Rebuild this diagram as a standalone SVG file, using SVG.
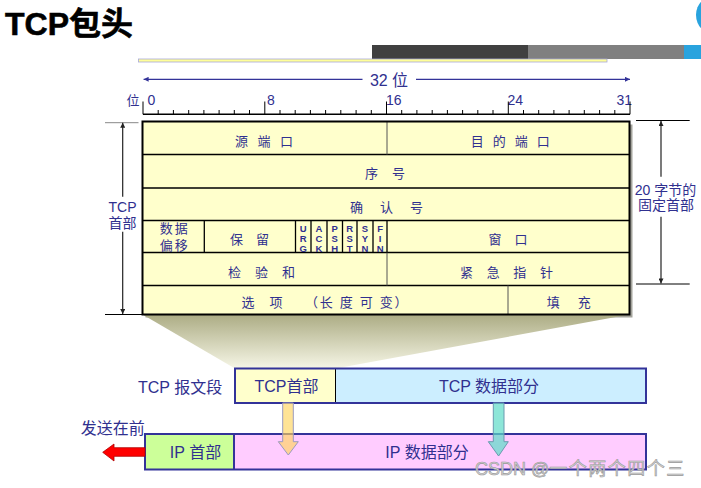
<svg xmlns="http://www.w3.org/2000/svg" width="701" height="488" viewBox="0 0 701 488">
<defs>
<style>
.t{font-family:"Liberation Sans","Noto Sans CJK SC",sans-serif;fill:#30308f}
.c13{font-size:13px;text-anchor:middle}
.c14{font-size:14px;text-anchor:middle}
.c16{font-size:16px;text-anchor:middle}
.flag{font-family:"Liberation Sans",sans-serif;font-size:9.5px;font-weight:bold;fill:#30308f;text-anchor:middle;writing-mode:vertical-rl;text-orientation:upright;letter-spacing:-1px}
.ln{stroke:#000;stroke-width:1.3;fill:none}
.gl{stroke:#555;stroke-width:1;fill:none}
.nv{stroke:#333399;stroke-width:2;fill:none}
.dim{stroke:#222;stroke-width:1.2;fill:none}
</style>
<marker id="ah" viewBox="0 0 10 10" refX="10" refY="5" markerWidth="9" markerHeight="5" markerUnits="userSpaceOnUse" orient="auto"><path d="M0,0L10,5L0,10z" fill="#222"/></marker>
<marker id="an" viewBox="0 0 10 10" refX="10" refY="5" markerWidth="10" markerHeight="5" markerUnits="userSpaceOnUse" orient="auto"><path d="M0,0L10,5L0,10z" fill="#333399"/></marker>
<linearGradient id="trap" x1="0" y1="0" x2="0" y2="1"><stop offset="0" stop-color="#acac84"/><stop offset="1" stop-color="#f6f6e6"/></linearGradient>
</defs>

<g id="title">
<text x="5" y="35" font-family="Liberation Sans,Noto Sans CJK SC,sans-serif" font-size="32" font-weight="bold" fill="#000" stroke="#000" stroke-width="0.6">TCP包头</text>
<circle cx="716" cy="15" r="20" fill="#29a3de"/>
<rect x="372" y="45" width="156" height="14" fill="#404040"/>
<rect x="528" y="45" width="156" height="14" fill="#808080"/>
<rect x="684" y="45" width="17" height="14" fill="#29a3de"/>
<rect x="138.5" y="59" width="468.5" height="3" fill="#ffff99" stroke="#a8a8d8" stroke-width="0.8"/>
</g>

<g id="ruler">
<line x1="362.5" y1="79.3" x2="143.6" y2="79.3" stroke="#333399" stroke-width="1.3" marker-end="url(#an)"/>
<line x1="416" y1="79.3" x2="630" y2="79.3" stroke="#333399" stroke-width="1.3" marker-end="url(#an)"/>
<text class="t c16" x="389" y="86">32 位</text>
<text class="t" x="126.5" y="105" font-size="13">位</text>
<text class="t" x="147.5" y="105" font-size="14">0</text>
<text class="t" x="267" y="105" font-size="14">8</text>
<text class="t" x="386" y="105" font-size="14">16</text>
<text class="t" x="507.5" y="105" font-size="14">24</text>
<text class="t" x="632" y="105" font-size="14" text-anchor="end">31</text>
<path d="M143 114.3H630" stroke="#000" stroke-width="1.4"/>
<path d="M143 101.5V114.3M264.8 101.5V114.3M386.5 101.5V114.3M508.3 101.5V114.3M630 101.5V114.3" stroke="#000" stroke-width="1"/>
<path d="M158.2 110V114M173.4 110V114M188.7 110V114M203.9 110V114M219.1 110V114M234.3 110V114M249.5 110V114M280 110V114M295.2 110V114M310.4 110V114M325.6 110V114M340.8 110V114M356.1 110V114M371.3 110V114M401.7 110V114M416.9 110V114M432.2 110V114M447.4 110V114M462.6 110V114M477.8 110V114M493 110V114M523.5 110V114M538.7 110V114M553.9 110V114M569.1 110V114M584.3 110V114M599.6 110V114M614.8 110V114" stroke="#000" stroke-width="1"/>
</g>

<g id="trapezoid">
<rect x="145.5" y="124.5" width="487" height="193" fill="#a4a49c"/>
<polygon points="142.5,314.5 629.5,314.5 335.5,368.5 235,368.5" fill="url(#trap)"/>
</g>

<g id="header-table">
<rect x="142.5" y="121.5" width="487" height="193" fill="#ffffcc"/>
<path d="M142.5 154.5H629.5M142.5 188H629.5M142.5 220.5H629.5M142.5 252.5H629.5M142.5 285.5H629.5" class="ln"/>
<path d="M387 121.5V154.5M387 252.5V285.5M508 285.5V314.5" class="gl"/>
<path d="M204.3 220.5V252.5M295.5 220.5V252.5M311 220.5V252.5M327 220.5V252.5M342.5 220.5V252.5M357 220.5V252.5M373 220.5V252.5M387 220.5V252.5" class="ln"/>
<rect x="142.5" y="121.5" width="487" height="193" fill="none" stroke="#000" stroke-width="2"/>
</g>

<g id="f-srcport"><text class="t c13" x="265.5" y="145.5" letter-spacing="3">源 端 口</text></g>
<g id="f-dstport"><text class="t c13" x="511.7" y="145.5" letter-spacing="2.7">目 的 端 口</text></g>
<g id="f-seq"><text class="t c13" x="387.6" y="177.5" letter-spacing="5.2">序 号</text></g>
<g id="f-ack"><text class="t c13" x="389.8" y="212" letter-spacing="6.7">确 认 号</text></g>
<g id="f-offset">
<text class="t c13" x="174.7" y="233.3" letter-spacing="2">数据<tspan x="174.7" dy="16.7">偏移</tspan></text>
</g>
<g id="f-reserved"><text class="t c13" x="251.9" y="243.5" letter-spacing="4.7">保 留</text></g>
<g id="f-flags">
<text class="flag" x="303.2" y="238">URG</text>
<text class="flag" x="319" y="238">ACK</text>
<text class="flag" x="334.7" y="238">PSH</text>
<text class="flag" x="349.7" y="238">RST</text>
<text class="flag" x="365" y="238">SYN</text>
<text class="flag" x="380.2" y="238">FIN</text>
</g>
<g id="f-window"><text class="t c13" x="510.4" y="243.5" letter-spacing="4.7">窗 口</text></g>
<g id="f-checksum"><text class="t c13" x="264.1" y="277" letter-spacing="5.2">检 验 和</text></g>
<g id="f-urgent"><text class="t c13" x="509" y="277" letter-spacing="5">紧 急 指 针</text></g>
<g id="f-options"><text class="t" font-size="13" x="241.5" y="306.5" letter-spacing="1.7">选 <tspan dx="8">项 </tspan><tspan dx="15.5">（长 度 可 变）</tspan></text></g>
<g id="f-padding"><text class="t c13" x="572.3" y="306.5" letter-spacing="7.2">填 充</text></g>

<g id="dim-left">
<path d="M105 122.7H138.5" stroke="#888" stroke-width="1"/>
<path d="M105 314.5H142" stroke="#000" stroke-width="1.2"/>
<line x1="122.7" y1="196.7" x2="122.7" y2="122.7" class="dim" marker-end="url(#ah)"/>
<line x1="122.7" y1="231.7" x2="122.7" y2="314" class="dim" marker-end="url(#ah)"/>
<text class="t c14" x="122.5" y="211.7">TCP<tspan x="122.5" dy="15.8">首部</tspan></text>
</g>

<g id="dim-right">
<path d="M636 120.5H689.7M636 284H689.7" stroke="#000" stroke-width="1"/>
<line x1="661" y1="176.7" x2="661" y2="121" class="dim" marker-end="url(#ah)"/>
<line x1="661" y1="216.7" x2="661" y2="283.5" class="dim" marker-end="url(#ah)"/>
<text class="t c14" x="665.5" y="194.5">20 字节的<tspan x="666" dy="15">固定首部</tspan></text>
</g>

<g id="tcp-segment">
<text class="t" font-size="16" x="138" y="393">TCP 报文段</text>
<rect x="235" y="368.5" width="100.5" height="34.5" fill="#ffffcc"/>
<rect x="335.5" y="368.5" width="310.5" height="34.5" fill="#cceeff"/>
<line x1="335.5" y1="368.5" x2="335.5" y2="403" stroke="#000" stroke-width="1"/>
<rect x="235" y="368.5" width="411" height="34.5" class="nv"/>
<text class="t c16" x="286.5" y="392">TCP首部</text>
<text class="t c16" x="489" y="392">TCP 数据部分</text>
</g>

<g id="ip-datagram">
<text class="t c16" x="112.7" y="434">发送在前</text>
<rect x="145" y="434" width="89" height="35.5" fill="#ccff99"/>
<rect x="234" y="434" width="412" height="35.5" fill="#ffccff"/>
<rect x="145" y="434" width="501" height="35.5" class="nv"/>
<line x1="234" y1="434" x2="234" y2="469.5" stroke="#333399" stroke-width="2"/>
<text class="t c16" x="195.5" y="458">IP 首部</text>
<text class="t c16" x="427" y="458">IP 数据部分</text>
</g>

<g id="connectors">
<polygon points="102.7,452.3 114,444 114,447.7 145,447.7 145,456.3 114,456.3 114,461" fill="#ff0000" stroke="#b00000" stroke-width="0.8"/>
<polygon points="282.7,403 293.3,403 293.3,441.7 298.3,441.7 288.3,455 278.3,441.7 282.7,441.7" fill="#ffd45c" fill-opacity="0.65" stroke="#9a9ac0" stroke-width="1"/>
<polygon points="493.3,403 504,403 504,441.7 508.3,441.7 498.6,456 488.3,441.7 493.3,441.7" fill="#5cdcc8" fill-opacity="0.7" stroke="#6a9ab0" stroke-width="1"/>
</g>

<g id="watermark">
<text x="475" y="475" font-family="Liberation Sans,Noto Sans CJK SC,sans-serif" font-size="18" fill="#d2d2d2" stroke="#999" stroke-width="0.6">CSDN @<tspan letter-spacing="1.5">一个两个四个三</tspan></text>
</g>
</svg>
